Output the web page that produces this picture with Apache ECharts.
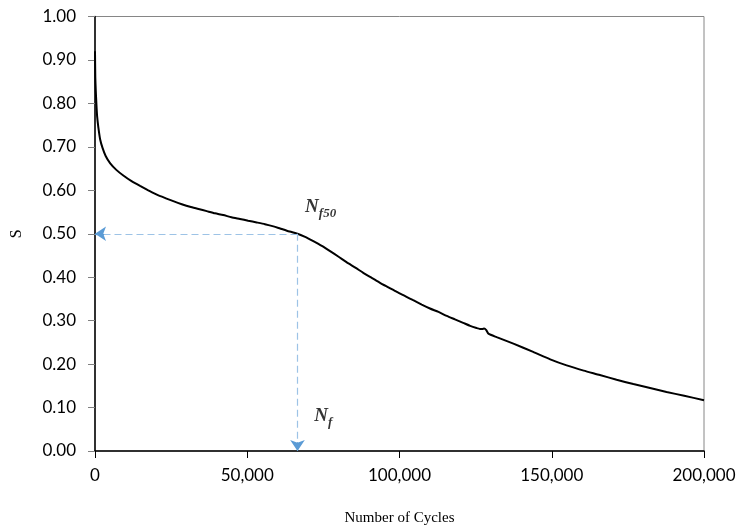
<!DOCTYPE html>
<html>
<head>
<meta charset="utf-8">
<script src="https://cdn.jsdelivr.net/npm/echarts@6/dist/echarts.min.js"></script>
<style>
  html, body { margin: 0; padding: 0; background: #fff; }
  #chart { width: 739px; height: 531px; }
</style>
</head>
<body>
<div id="chart"></div>
<script>
// Stiffness ratio S against number of load cycles
const cycles = [0, 100, 250, 450, 700, 1100, 1700, 2500, 3500, 5000, 7000, 9300, 12000, 14800, 17500, 20300, 23500, 25700, 28500, 31200, 34000, 36700, 39400, 42100, 44800, 47600, 50300, 53100, 55800, 58600, 60800, 63000, 66500, 69000, 71700, 74500, 77200, 80000, 82700, 85500, 88100, 91000, 93600, 96500, 99100, 102000, 104500, 107300, 110000, 112800, 115500, 118200, 120900, 123200, 125300, 126400, 127200, 127800, 128500, 129200, 131900, 137400, 143900, 149500, 154900, 160500, 165800, 171300, 176800, 182300, 187700, 193500, 200000];
const sValues = [0.92, 0.86, 0.83, 0.80, 0.77, 0.745, 0.717, 0.697, 0.679, 0.662, 0.647, 0.634, 0.621, 0.610, 0.600, 0.590, 0.581, 0.575, 0.568, 0.562, 0.557, 0.552, 0.547, 0.543, 0.538, 0.534, 0.530, 0.526, 0.522, 0.517, 0.512, 0.507, 0.500, 0.493, 0.483, 0.472, 0.460, 0.447, 0.434, 0.422, 0.410, 0.398, 0.387, 0.376, 0.366, 0.356, 0.347, 0.337, 0.328, 0.320, 0.311, 0.303, 0.295, 0.288, 0.283, 0.281, 0.281, 0.282, 0.278, 0.270, 0.262, 0.247, 0.228, 0.211, 0.197, 0.185, 0.175, 0.164, 0.154, 0.145, 0.136, 0.127, 0.117];

// Nf50 reference point: cycles at which S falls to half
const nf50Cycles = 66500;
const nf50S = 0.50;

const xTicks = [0, 50000, 100000, 150000, 200000];
const yTicks = [0, 0.1, 0.2, 0.3, 0.4, 0.5, 0.6, 0.7, 0.8, 0.9, 1.0];

const curve = cycles.map((c, i) => [c, sValues[i]]);

const tickFont = 'Lato';
const serif = 'Liberation Serif';
const guideColor = '#9DC3E6';
const arrowColor = '#5B9BD5';

const richLabel = {
  n: { fontFamily: serif, fontSize: 19, fontWeight: 'bold', fontStyle: 'italic', color: '#000', lineHeight: 19, padding: [0, 0, 4, 0] },
  s: { fontFamily: serif, fontSize: 13, fontWeight: 'bold', fontStyle: 'italic', color: '#000', lineHeight: 15, padding: [8, 0, 0, 0] }
};

const dashed = { color: guideColor, type: [7, 4], width: 1.2 };
const arrowStem = { color: arrowColor, type: 'solid', width: 1.2 };

const chart = echarts.init(document.getElementById('chart'), null, { renderer: 'canvas' });

chart.setOption({
  animation: false,
  backgroundColor: '#fff',
  grid: {
    left: 95, right: 35, top: 16.5, bottom: 79,
    show: true, borderColor: '#868686', borderWidth: 1, backgroundColor: 'transparent'
  },
  xAxis: {
    type: 'value',
    min: xTicks[0],
    max: xTicks[xTicks.length - 1],
    interval: xTicks[1] - xTicks[0],
    name: 'Number of Cycles',
    nameLocation: 'middle',
    nameGap: 60,
    nameTextStyle: { fontFamily: serif, fontSize: 15, color: '#000' },
    axisLine: { show: true, onZero: false, lineStyle: { color: '#000', width: 1.5 } },
    axisTick: { show: true, inside: false, length: 7, lineStyle: { color: '#000', width: 1 } },
    splitLine: { show: false },
    axisLabel: {
      margin: 16,
      fontFamily: tickFont, fontSize: 17, color: '#000',
      formatter: v => v.toLocaleString('en-US')
    }
  },
  yAxis: {
    type: 'value',
    min: yTicks[0],
    max: yTicks[yTicks.length - 1],
    interval: 0.1,
    name: 'S',
    nameLocation: 'middle',
    nameGap: 70,
    nameTextStyle: { fontFamily: serif, fontSize: 16, color: '#000' },
    axisLine: { show: true, onZero: false, lineStyle: { color: '#000', width: 1.5 } },
    axisTick: { show: true, inside: false, length: 7, lineStyle: { color: '#808080', width: 1 } },
    splitLine: { show: false },
    axisLabel: {
      margin: 19,
      fontFamily: tickFont, fontSize: 17, color: '#000',
      formatter: v => v.toFixed(2)
    }
  },
  series: [
    {
      name: 'S',
      type: 'line',
      data: curve,
      showSymbol: false,
      smooth: 0.2,
      lineStyle: { color: '#000', width: 2 },
      z: 3,
      markLine: {
        silent: true,
        animation: false,
        symbol: ['none', 'arrow'],
        symbolSize: [11, 11],
        label: { show: false },
        data: [
          // dashed guides from the Nf50 point to both axes
          [{ coord: [nf50Cycles, nf50S], lineStyle: dashed, symbol: 'none' }, { coord: [0, nf50S], symbol: 'none' }],
          [{ coord: [nf50Cycles, nf50S], lineStyle: dashed, symbol: 'none' }, { coord: [nf50Cycles, 0], symbol: 'none' }],
          // arrow heads at the axes
          [{ coord: [3000, nf50S], lineStyle: arrowStem }, { coord: [0, nf50S] }],
          [{ coord: [nf50Cycles, 0.02], lineStyle: arrowStem }, { coord: [nf50Cycles, 0] }]
        ]
      }
    },
    {
      name: 'labels',
      type: 'scatter',
      symbolSize: 0,
      silent: true,
      z: 4,
      data: [
        { value: [69000, 0.556], label: { show: true, position: 'right', distance: 0, formatter: '{n|N}{s|f50}', rich: richLabel } },
        { value: [72000, 0.075], label: { show: true, position: 'right', distance: 0, formatter: '{n|N}{s|f}', rich: richLabel } }
      ]
    }
  ]
});
</script>
</body>
</html>
